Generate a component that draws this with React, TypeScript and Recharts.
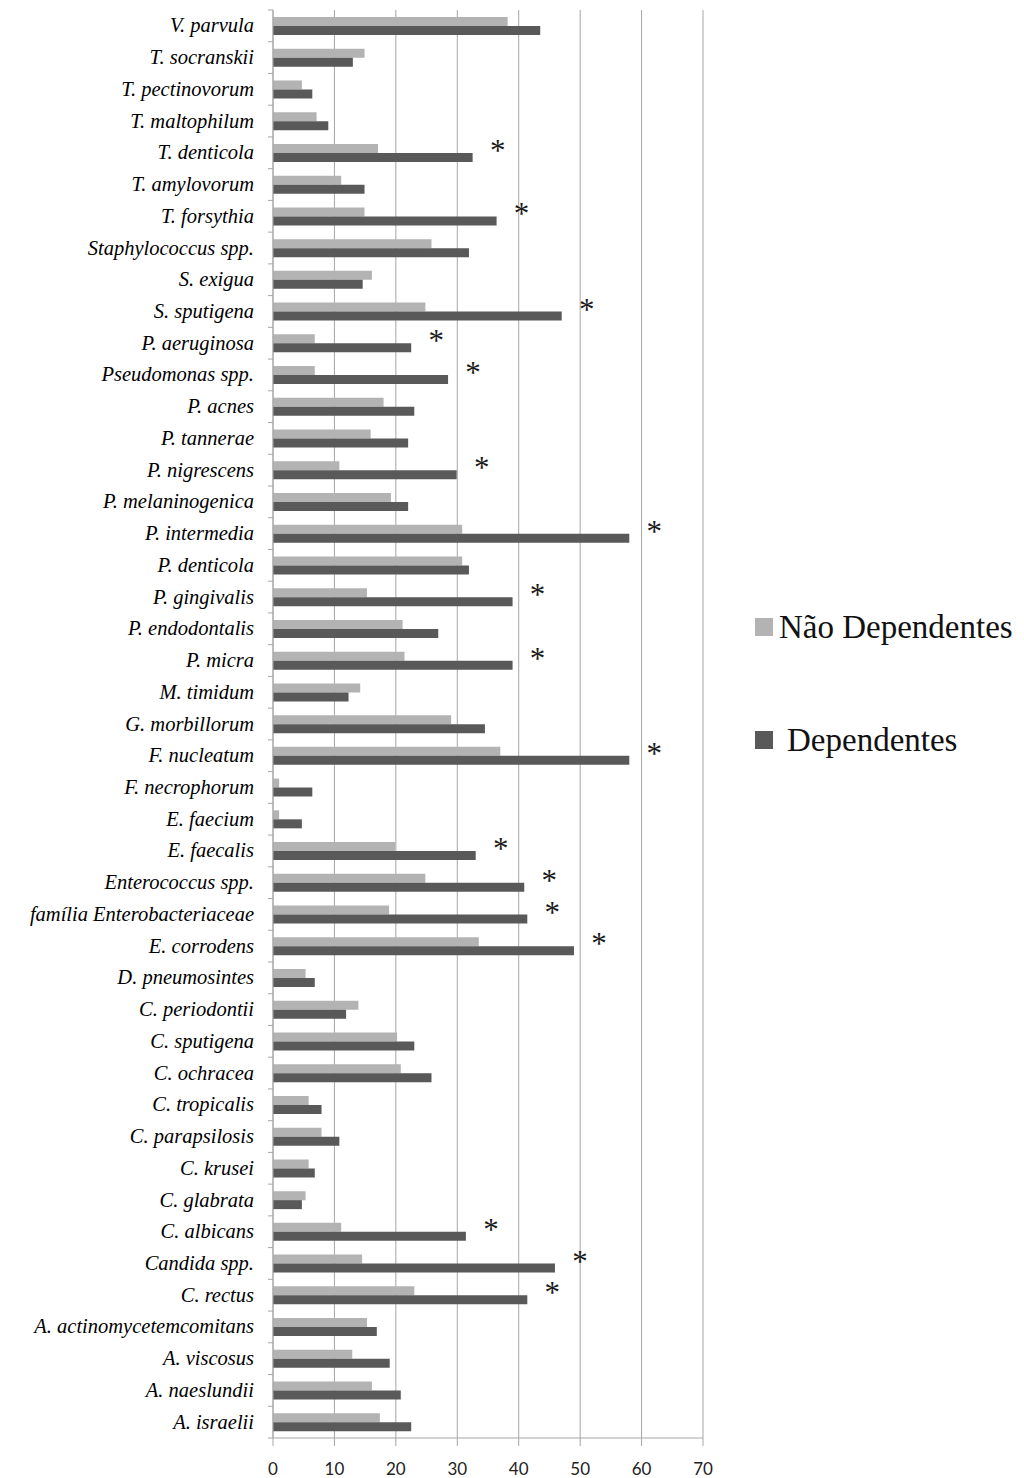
import React from "react";
import {
  BarChart,
  Bar,
  XAxis,
  YAxis,
  CartesianGrid,
  Legend,
  LabelList,
} from "recharts";

// species, listed top to bottom
const species = [
  "V. parvula",
  "T. socranskii",
  "T. pectinovorum",
  "T. maltophilum",
  "T. denticola",
  "T. amylovorum",
  "T. forsythia",
  "Staphylococcus spp.",
  "S. exigua",
  "S. sputigena",
  "P. aeruginosa",
  "Pseudomonas spp.",
  "P. acnes",
  "P. tannerae",
  "P. nigrescens",
  "P. melaninogenica",
  "P. intermedia",
  "P. denticola",
  "P. gingivalis",
  "P. endodontalis",
  "P. micra",
  "M. timidum",
  "G. morbillorum",
  "F. nucleatum",
  "F. necrophorum",
  "E. faecium",
  "E. faecalis",
  "Enterococcus spp.",
  "família Enterobacteriaceae",
  "E. corrodens",
  "D. pneumosintes",
  "C. periodontii",
  "C. sputigena",
  "C. ochracea",
  "C. tropicalis",
  "C. parapsilosis",
  "C. krusei",
  "C. glabrata",
  "C. albicans",
  "Candida spp.",
  "C. rectus",
  "A. actinomycetemcomitans",
  "A. viscosus",
  "A. naeslundii",
  "A. israelii",
];

const naoDependentes = [
  38.2, 14.9, 4.7, 7.1, 17.1, 11.1, 14.9, 25.8, 16.1, 24.8, 6.8, 6.8, 18.0,
  15.9, 10.8, 19.2, 30.8, 30.8, 15.3, 21.1, 21.4, 14.2, 29.0, 37.0, 1.0, 1.0,
  19.9, 24.8, 18.9, 33.5, 5.3, 13.9, 20.2, 20.8, 5.8, 7.9, 5.8, 5.3, 11.1,
  14.5, 23.0, 15.3, 12.9, 16.1, 17.4,
];

const dependentes = [
  43.5, 13.0, 6.4, 9.0, 32.5, 14.9, 36.4, 31.9, 14.6, 47.0, 22.5, 28.5, 23.0,
  22.0, 29.9, 22.0, 58.0, 31.9, 39.0, 26.9, 39.0, 12.3, 34.5, 58.0, 6.4, 4.7,
  33.0, 40.9, 41.4, 49.0, 6.8, 11.9, 23.0, 25.8, 7.9, 10.8, 6.8, 4.7, 31.4,
  45.9, 41.4, 16.9, 19.0, 20.8, 22.5,
];

// groups marked with an asterisk
const significant = [
  "T. denticola",
  "T. forsythia",
  "S. sputigena",
  "P. aeruginosa",
  "Pseudomonas spp.",
  "P. nigrescens",
  "P. intermedia",
  "P. gingivalis",
  "P. micra",
  "F. nucleatum",
  "E. faecalis",
  "Enterococcus spp.",
  "família Enterobacteriaceae",
  "E. corrodens",
  "C. albicans",
  "Candida spp.",
  "C. rectus",
];

const seriesNames = ["Não Dependentes", "Dependentes"];

const xTicks = [0, 10, 20, 30, 40, 50, 60, 70];

const data = species.map((name, i) => ({
  name,
  nao: naoDependentes[i],
  dep: dependentes[i],
  sig: significant.includes(name) ? "*" : "",
}));

const LIGHT = "#b3b3b3";
const DARK = "#595959";
const GRID = "#a6a6a6";
const SERIF = "'Liberation Serif', 'Times New Roman', serif";

const TOP = 10;
const BOTTOM = 10;
const X_AXIS_H = 30;
const CHART_H = 1478;
const BAND = (CHART_H - TOP - BOTTOM - X_AXIS_H) / species.length;
const LABEL_GAP = 19;

const SpeciesTick = ({ x, y, payload, index }: any) => {
  const axisX = x + LABEL_GAP;
  return (
    <g>
      <line x1={axisX - 5} x2={axisX} y1={y - BAND / 2} y2={y - BAND / 2} stroke={GRID} />
      {index === species.length - 1 && (
        <line x1={axisX - 5} x2={axisX} y1={y + BAND / 2} y2={y + BAND / 2} stroke={GRID} />
      )}
      <text
        x={x}
        y={y}
        dy="0.32em"
        textAnchor="end"
        fontFamily={SERIF}
        fontStyle="italic"
        fontSize={20.5}
        fill="#000"
      >
        {payload.value}
      </text>
    </g>
  );
};

// asterisk placed just past the end of the dark bar, slightly above the pair
const Asterisk = ({ x, y, width, value }: any) => {
  if (!value) return null;
  return (
    <text
      x={x + width + 25}
      y={y + 8}
      textAnchor="middle"
      fontFamily={SERIF}
      fontSize={31}
      fill="#1a1a1a"
    >
      {value}
    </text>
  );
};

const SideLegend = ({ payload }: any) => {
  const items = seriesNames.map((n) => payload.find((p: any) => p.value === n)).filter(Boolean);
  return (
    <div style={{ fontFamily: SERIF, color: "#111" }}>
      {items.map((entry: any, i: number) => (
        <div
          key={entry.value}
          style={{ display: "flex", alignItems: "center", height: 40, marginBottom: i === 0 ? 73 : 0 }}
        >
          <span
            style={{
              display: "inline-block",
              width: 18,
              height: 18,
              background: entry.color,
              marginLeft: 3,
              marginRight: i === 0 ? 6 : 14,
            }}
          />
          <span style={{ fontSize: 33, lineHeight: "40px" }}>{entry.value}</span>
        </div>
      ))}
    </div>
  );
};

export default function App() {
  return (
    <div style={{ position: "absolute", left: 0, top: 0, width: 1024, height: CHART_H, background: "#fff" }}>
      <BarChart
        width={1024}
        height={CHART_H}
        data={data}
        layout="vertical"
        barGap={0}
        barSize={9}
        margin={{ top: TOP, right: 321, bottom: BOTTOM, left: 10 }}
      >
        <CartesianGrid horizontal={false} stroke={GRID} />
        <XAxis
          type="number"
          domain={[0, 70]}
          ticks={xTicks}
          height={X_AXIS_H}
          stroke={GRID}
          tickSize={8}
          tickMargin={17}
          tick={{ fontFamily: "Lato, 'Open Sans', sans-serif", fontSize: 17, fill: "#222" }}
        />
        <YAxis
          type="category"
          dataKey="name"
          width={263}
          stroke={GRID}
          tickSize={0}
          tickMargin={LABEL_GAP}
          interval={0}
          tick={<SpeciesTick />}
        />
        <Legend
          content={<SideLegend />}
          layout="horizontal"
          verticalAlign="middle"
          align="center"
          wrapperStyle={{ left: 752, top: 607, width: 272 }}
        />
        <Bar dataKey="nao" name={seriesNames[0]} fill={LIGHT} isAnimationActive={false} />
        <Bar dataKey="dep" name={seriesNames[1]} fill={DARK} isAnimationActive={false}>
          <LabelList dataKey="sig" content={<Asterisk />} />
        </Bar>
      </BarChart>
    </div>
  );
}
